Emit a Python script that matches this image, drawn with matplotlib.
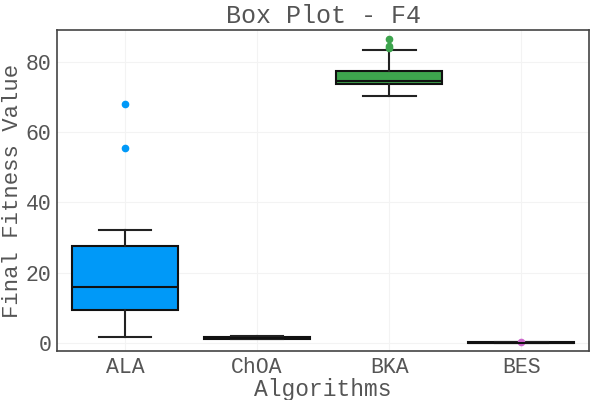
import matplotlib
matplotlib.use("Agg")
import matplotlib.pyplot as plt

plt.rcParams['font.family'] = ['Liberation Mono', 'DejaVu Sans Mono']

categories = ["ALA", "ChOA", "BKA", "BES"]
colors = ["#0099F8", "#E8743B", "#3DA44D", "#CC66CC"]
q1 = [9.4, 1.1, 73.8, 0.0]
med = [16.0, 1.3, 74.7, 0.0]
q3 = [27.7, 1.6, 77.5, 0.05]
whislo = [1.5, 0.9, 70.4, -0.05]
whishi = [32.0, 1.8, 83.6, 0.1]
fliers = [[55.5, 68.0], [], [84.0, 84.7, 86.6], [0.1]]

stats = []
for i, c in enumerate(categories):
    stats.append(dict(label=c, q1=q1[i], med=med[i], q3=q3[i],
                      whislo=whislo[i], whishi=whishi[i], fliers=fliers[i]))

fig = plt.figure(figsize=(6, 4), dpi=100)
ax = fig.add_axes([0.095, 0.1225, 0.887, 0.8025])

bp = ax.bxp(stats, positions=range(len(categories)), widths=0.8,
            patch_artist=True, showfliers=True,
            boxprops=dict(edgecolor="#111111", linewidth=1.5),
            medianprops=dict(color="#111111", linewidth=1.5),
            whiskerprops=dict(color="#222222", linewidth=1.5),
            capprops=dict(color="#222222", linewidth=1.5),
            capwidths=0.4)
for patch, col in zip(bp['boxes'], colors):
    patch.set_facecolor(col)
for fl, col in zip(bp['fliers'], colors):
    fl.set(marker='o', markerfacecolor=col, markeredgecolor=col, markersize=4.5)

ax.set_xlim(-0.515, 3.515)
ax.set_ylim(-2.4, 89.2)
ax.set_yticks([0, 20, 40, 60, 80])
ax.set_xticks(range(len(categories)))
ax.set_xticklabels(categories)
ax.grid(True, color="#f3f3f3", linewidth=0.8)
ax.set_axisbelow(True)
ax.tick_params(length=0, labelsize=15.5, colors="#555555", pad=4)
for s in ax.spines.values():
    s.set_color("#444444")
    s.set_linewidth(1.2)

ax.set_title("Box Plot - F4", fontsize=18, color="#555555", pad=5)
ax.set_xlabel("Algorithms", fontsize=16.5, color="#555555", labelpad=0)
ax.set_ylabel("Final Fitness Value", fontsize=16, color="#555555", labelpad=2)

fig.savefig("out.png", dpi=100)
